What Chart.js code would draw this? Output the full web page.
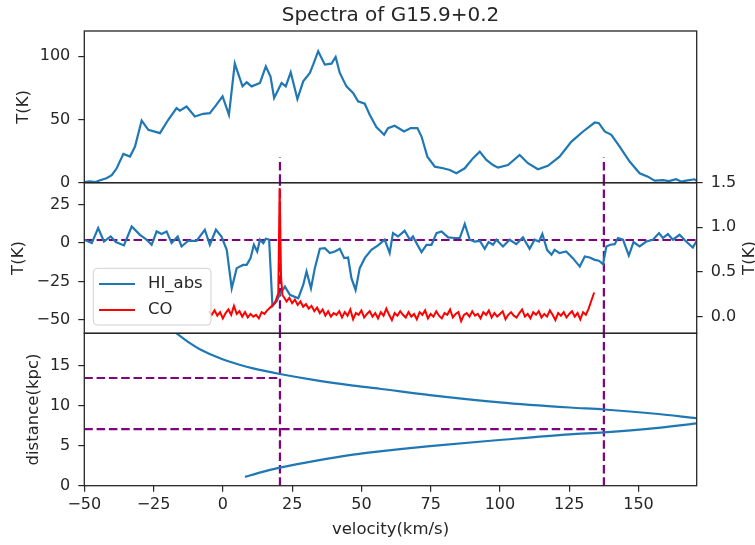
<!DOCTYPE html>
<html>
<head>
<meta charset="utf-8">
<title>Spectra of G15.9+0.2</title>
<script src="https://cdn.jsdelivr.net/npm/chart.js@4.4.1/dist/chart.umd.min.js"></script>
<style>
  html, body { margin: 0; padding: 0; background: #fff; }
  #wrap { position: relative; width: 755px; height: 545px; }
  #wrap canvas { position: absolute; left: 0; top: 0; }
</style>
</head>
<body>
<div id="wrap">
  <canvas id="emChart" width="755" height="545"></canvas>
  <canvas id="absChart" width="755" height="545"></canvas>
  <canvas id="distChart" width="755" height="545"></canvas>
</div>
<script>
// ---- data ----
const velMin = -50, velMax = 171;
const velTicks = [-50, -25, 0, 25, 50, 75, 100, 125, 150];

// HI emission (top panel)
const hiEmVel = [-50,-48,-46,-44.3,-42,-40.1,-38.3,-35.9,-33.5,-31.7,-29.3,-26.9,-22.7,-19.7,-16.7,-15.5,-13.1,-10.1,-7.1,-4.7,
  -2.3,-0.1,2.2,4.3,7.1,8.6,10.4,13.4,15.5,17.2,18.5,21.2,22.7,24.5,26.9,29,31.4,32.6,34.4,36.8,
  39.2,40.7,42.2,44.6,47,48.8,51.2,53,55.4,58.2,59.6,62,65.4,67.8,70.2,71.7,73.8,76.5,79.5,81.9,
  84.3,87.3,90.3,92.7,95.1,97.5,99.3,102.9,107.1,110.1,113.7,117.3,121.5,125.8,130,134.2,135.7,137.8,140.2,143.2,
  146.8,150.4,153.4,155.8,158.8,161,163.6,165.5,167.2,170.2,171];
const hiEmT = [0.5,1,0.5,2,3.5,6,11.4,22.8,20.7,28.6,49.2,41.8,39.2,49.8,59,57,60.3,52.4,54.5,55,
  61.7,68.3,53.7,94.2,76.2,79.4,76.2,78.9,92,84,67,78.9,76.2,87.3,66.2,80.2,86.8,93.4,104,93.4,
  94.2,99.5,86.8,76.2,71,64.3,62.5,53.7,44,37.9,43.2,45,40.5,43.2,43.2,36.5,20.6,12.7,11.4,10.1,
  7.5,11.4,19.4,24.6,18,14,11.9,14,22,15.4,10.6,13.3,20.6,32.5,40.5,47.6,47.1,40.5,37.9,28.6,
  16.7,7.5,4.8,1.6,2.1,1.2,2.7,0.8,1.6,2.7,1.5];
const topTicks = [0, 50, 100];

// HI absorption (middle panel, left axis)
const hiAbsVel = [-50,-47.3,-45,-42.9,-40.5,-38.6,-35.7,-32.9,-29.9,-27.5,-25.7,-23.9,-22.1,-20.3,-18.5,-16.3,-14.9,-12.5,-9.5,-6.5,
  -4.7,-2.5,-0.5,1.4,3.2,5,7.3,8.6,10,11.2,12.4,13.4,14.6,15.5,16.7,17.9,19.4,20.6,22.4,24.2,
  27.2,29,30.2,31.8,33.2,35,36.8,38.6,40.4,42.2,43.8,45.2,46.4,47.9,49.4,51.2,53.6,56,58.4,60.2,
  61.4,63.2,65.6,67.5,68.6,70.2,71.7,73.5,75.3,77.1,78.9,81.3,83.7,85.5,87.3,89.1,90.9,92.7,94.5,95.9,
  97.5,98.7,101.1,103.5,105.9,108.3,110.7,112.5,114.1,115.3,117,118.6,119.7,121.5,123.9,126.3,128.8,130.6,132.4,134.2,
  135.7,137.2,138.4,139.8,141.4,142.6,144.4,146.5,148.2,150.4,152.8,155.2,157.4,158.8,160.6,162.4,164.8,167.2,169.6,171];
const hiAbsT = [2.2,0,9.8,1,4.3,0.7,-1.5,10.8,5.4,2.2,-1.1,7.6,5.9,7.6,0,4.3,-2.2,1.5,1.5,8.7,
  -1.1,8.7,4.3,-4.4,-29.4,-16.3,-14.2,-14.2,-9.8,-1.1,-5.5,2.2,0,2.8,2.2,-41,-38,-33,-28.3,-33.7,
  -35.9,-27.2,-18.5,-29.4,-16.3,-3.7,-3.3,-6.5,-5.5,-3.7,-9.8,-9.4,-22.8,-30.5,-16.3,-9.8,-4.4,-1.5,2.2,-6.5,
  6.5,4.3,8,2.2,4.3,-1.1,-5.9,-1.1,-1.1,6.5,7.6,3.7,3.3,3.3,12.4,2.2,1,1.5,-3.7,0.7,
  -1.1,2.2,-2.2,2.2,-0.7,3.7,-3.7,2.2,1,5.9,-4.4,-7.6,-4.4,-6.5,-5.5,-9.8,-15.3,-8.7,-9.4,-10.9,
  -11.5,-13.7,-2.2,-1.1,-0.7,3.3,2.2,-8.1,0.7,-2.2,1,2.2,6.5,3.3,5.9,2.2,5.4,1,-2.9,1.5];
const absBaseline = 2;
const midMin = -58.7, midMax = 39.3;
const midTicks = [-50, -25, 0, 25];

// CO (middle panel, right axis)
const coVel = [-5,-4,-3,-2,-1,0,1,2,3,4,5,6,7,8,9,10,11,12,13,14,15,16,17,18,19,
  20,20.5,21,21.5,
  22,23,24,25,26,27,28,29,30,31,32,33,34,35,36,37,38,39,40,
  41,42,43,44,45,46,47,48,49,50,51,52,53,54,55,56,57,58,59,60,
  61,62,63,64,65,66,67,68,69,70,71,72,73,74,75,76,77,78,79,80,
  81,82,83,84,85,86,87,88,89,90,91,92,93,94,95,96,97,98,99,100,
  101,102,103,104,105,106,107,108,109,110,111,112,113,114,115,116,117,118,119,120,
  121,122,123,124,125,126,127,128,129,130,131,132,133,134];
const coT = [0.06,0.02,0.07,0.01,0.05,-0.02,0.04,0.08,0.02,0.12,0.03,0.06,0.00,0.05,-0.01,0.03,0.00,0.02,-0.02,0.05,0.03,0.07,0.10,0.13,0.17,
  0.26,1.44,0.45,0.24,
  0.22,0.17,0.21,0.15,0.19,0.13,0.17,0.11,0.14,0.09,0.12,0.06,0.10,0.04,0.08,0.01,0.06,0.00,0.04,
  0.02,0.06,-0.01,0.05,0.01,0.08,-0.03,0.04,0.02,0.07,-0.01,0.03,0.06,0.00,0.04,-0.02,0.05,0.01,0.09,0.02,
  -0.04,0.04,0.01,0.06,0.02,-0.01,0.05,0.00,0.03,-0.03,0.05,0.02,0.07,-0.02,0.03,0.00,0.06,0.01,-0.02,0.04,
  0.02,0.08,-0.01,0.03,0.05,-0.05,0.02,0.04,0.00,0.06,0.01,0.03,-0.02,0.05,0.02,0.07,-0.01,0.04,0.00,0.03,
  0.06,-0.03,0.02,0.05,0.01,-0.01,0.04,0.08,0.00,0.03,-0.02,0.05,0.02,0.06,-0.01,0.03,0.00,0.07,0.02,-0.04,
  0.04,0.01,0.05,-0.01,0.03,0.06,0.00,0.04,-0.03,0.05,0.02,0.09,0.18,0.27];
const coMin = -0.187, coMax = 1.5;
const coTicks = [0, 0.5, 1, 1.5];

// kinematic distance curve (bottom panel)
const farVel = [-16.7,-12,-8.3,-3,1.4,6,10.9,20.6,33.8,47,56.6,74.7,99.9,125.2,137.5,155.2,171];
const farDist = [19.1,17.9,17.1,16.25,15.65,15.15,14.7,14.0,13.2,12.55,12.15,11.35,10.45,9.8,9.55,9.05,8.45];
const nearVel = [8,14,20.6,33.8,47,55,74.7,99.9,125.2,137.5,155.2,171];
const nearDist = [1.1,1.7,2.26,3.15,3.9,4.25,4.97,5.73,6.44,6.69,7.19,7.82];
const distMax = 19.1;
const distTicks = [0, 5, 10, 15];

// source velocity markers and their distances
const markerVel = [20.6, 137.5];
const markerDist = [13.5, 7.1];
const markerTopHeight = 20;

// ---- layout / style ----
const W = 755, H = 545;
const LEFT = 84.3, RIGHT = 696.7;
const TOP1 = 31, TOP2 = 182.7, TOP3 = 333.3, BOTTOM = 485.7;
const FONT = "'DejaVu Sans', sans-serif";
const INK = "#262626";
const BLUE = "#1f77b4", RED = "#ff0000", PURPLE = "#800080";
const LW = 2.2, DASH = [8.5, 3.8];

const minus = (s) => String(s).replace("-", "\u2212");
const pts = (xs, ys) => xs.map((x, i) => ({ x, y: ys[i] }));

function line(data, color, extra) {
  return Object.assign({
    data, borderColor: color, borderWidth: LW, pointRadius: 0,
    fill: false, tension: 0
  }, extra || {});
}
function dashed(data, yAxisID) {
  return line(data, PURPLE, { borderDash: DASH, order: 5, yAxisID });
}

function tickStyle() {
  return {
    grid: { drawOnChartArea: false, tickLength: 6, color: INK, lineWidth: 1.2 },
    border: { display: false }
  };
}

function yScale(min, max, ticks, side, fmt) {
  return Object.assign({
    type: "linear", position: side, min, max,
    afterFit(s) { s.width = side === "left" ? LEFT : W - RIGHT; },
    afterBuildTicks(s) { s.ticks = ticks.map((v) => ({ value: v })); },
    ticks: { padding: 8, color: INK, font: { family: FONT, size: 16 },
      callback: fmt || ((v) => minus(v)) }
  }, tickStyle());
}

function xScale(show) {
  const s = Object.assign({
    type: "linear", min: velMin, max: velMax, display: show,
    afterBuildTicks(sc) { sc.ticks = velTicks.map((v) => ({ value: v })); },
    ticks: { padding: 4, color: INK, font: { family: FONT, size: 16 },
      maxRotation: 0, callback: (v) => minus(v) }
  }, tickStyle());
  if (show) s.afterFit = (sc) => { sc.height = H - BOTTOM; };
  return s;
}

// frame around the plot area plus free text (titles, axis labels)
function framePlugin(id, texts, after) {
  return {
    id,
    afterDraw(chart) {
      const { ctx, chartArea: a } = chart;
      ctx.save();
      if (after) after(chart);
      ctx.strokeStyle = INK;
      ctx.lineWidth = 1.3;
      ctx.strokeRect(a.left, a.top, a.right - a.left, a.bottom - a.top);
      ctx.fillStyle = INK;
      texts.forEach((t) => {
        ctx.save();
        ctx.translate(t.x, t.y);
        ctx.rotate(t.rot || 0);
        ctx.font = t.font || "16.5px " + FONT;
        ctx.textAlign = "center";
        ctx.textBaseline = t.base || "middle";
        ctx.fillText(t.text, 0, 0);
        ctx.restore();
      });
      ctx.restore();
    }
  };
}

function drawLegend(chart) {
  const ctx = chart.ctx;
  const items = chart.data.datasets.filter((d) => d.label)
    .sort((a, b) => a.legendIndex - b.legendIndex);
  const x0 = 93.3, y0 = 268.3, w = 117.7, h = 56.7;
  ctx.beginPath();
  ctx.roundRect(x0, y0, w, h, 4);
  ctx.fillStyle = "rgba(255,255,255,0.8)";
  ctx.fill();
  ctx.strokeStyle = "#d0d0d0";
  ctx.lineWidth = 1;
  ctx.stroke();
  items.forEach((d, i) => {
    const y = 284 + i * 26;
    ctx.beginPath();
    ctx.moveTo(99, y);
    ctx.lineTo(135, y);
    ctx.strokeStyle = d.borderColor;
    ctx.lineWidth = LW;
    ctx.stroke();
    ctx.fillStyle = INK;
    ctx.font = "16.5px " + FONT;
    ctx.textAlign = "left";
    ctx.textBaseline = "middle";
    ctx.fillText(d.label, 148, y);
  });
}

const baseOptions = {
  responsive: false,
  animation: false,
  devicePixelRatio: 1,
  plugins: { legend: { display: false }, tooltip: { enabled: false } },
  events: []
};

function makeChart(id, datasets, scales, padding, plugin) {
  return new Chart(document.getElementById(id), {
    type: "line",
    data: { datasets },
    options: Object.assign({}, baseOptions, {
      layout: { autoPadding: false, padding },
      scales
    }),
    plugins: [plugin]
  });
}

function init() {
  const cx = (LEFT + RIGHT) / 2;

  // top: HI emission
  makeChart("emChart",
    [line(pts(hiEmVel, hiEmT), BLUE, { order: 1 })]
      .concat(markerVel.map((v) => dashed([{ x: v, y: 0 }, { x: v, y: markerTopHeight }], "y"))),
    { x: xScale(false), y: yScale(0, 120, topTicks, "left") },
    { top: TOP1, bottom: H - TOP2, left: 0, right: W - RIGHT },
    framePlugin("emFrame", [
      { text: "Spectra of G15.9+0.2", x: cx, y: 21, base: "alphabetic", font: "20px " + FONT },
      { text: "T(K)", x: 24, y: (TOP1 + TOP2) / 2, rot: -Math.PI / 2 }
    ]));

  // middle: HI absorption and CO
  makeChart("absChart",
    [
      line(pts(coVel, coT), RED, { label: "CO", legendIndex: 1, yAxisID: "yCO", order: 0, borderWidth: 2 }),
      line(pts(hiAbsVel, hiAbsT), BLUE, { label: "HI_abs", legendIndex: 0, yAxisID: "y", order: 1 }),
      dashed([{ x: velMin, y: absBaseline }, { x: velMax, y: absBaseline }], "y")
    ].concat(markerVel.map((v) => dashed([{ x: v, y: midMin }, { x: v, y: midMax }], "y"))),
    {
      x: xScale(false),
      y: yScale(midMin, midMax, midTicks, "left"),
      yCO: yScale(coMin, coMax, coTicks, "right", (v) => v.toFixed(1))
    },
    { top: TOP2, bottom: H - TOP3, left: 0, right: 0 },
    framePlugin("absFrame", [
      { text: "T(K)", x: 19, y: (TOP2 + TOP3) / 2, rot: -Math.PI / 2 },
      { text: "T(K)", x: 750, y: (TOP2 + TOP3) / 2, rot: -Math.PI / 2 }
    ], drawLegend));

  // bottom: distance vs velocity
  makeChart("distChart",
    [
      line(pts(farVel, farDist), BLUE, { order: 1, cubicInterpolationMode: "monotone" }),
      line(pts(nearVel, nearDist), BLUE, { order: 1, cubicInterpolationMode: "monotone" })
    ]
      .concat(markerVel.map((v) => dashed([{ x: v, y: 0 }, { x: v, y: distMax }], "y")))
      .concat(markerVel.map((v, i) => dashed([{ x: velMin, y: markerDist[i] }, { x: v, y: markerDist[i] }], "y"))),
    { x: xScale(true), y: yScale(0, distMax, distTicks, "left") },
    { top: TOP3, bottom: 0, left: 0, right: W - RIGHT },
    framePlugin("distFrame", [
      { text: "distance(kpc)", x: 34, y: (TOP3 + BOTTOM) / 2, rot: -Math.PI / 2 },
      { text: "velocity(km/s)", x: cx, y: 530 }
    ]));
}

if (document.readyState === "loading") {
  document.addEventListener("DOMContentLoaded", init);
} else {
  init();
}
</script>
</body>
</html>
